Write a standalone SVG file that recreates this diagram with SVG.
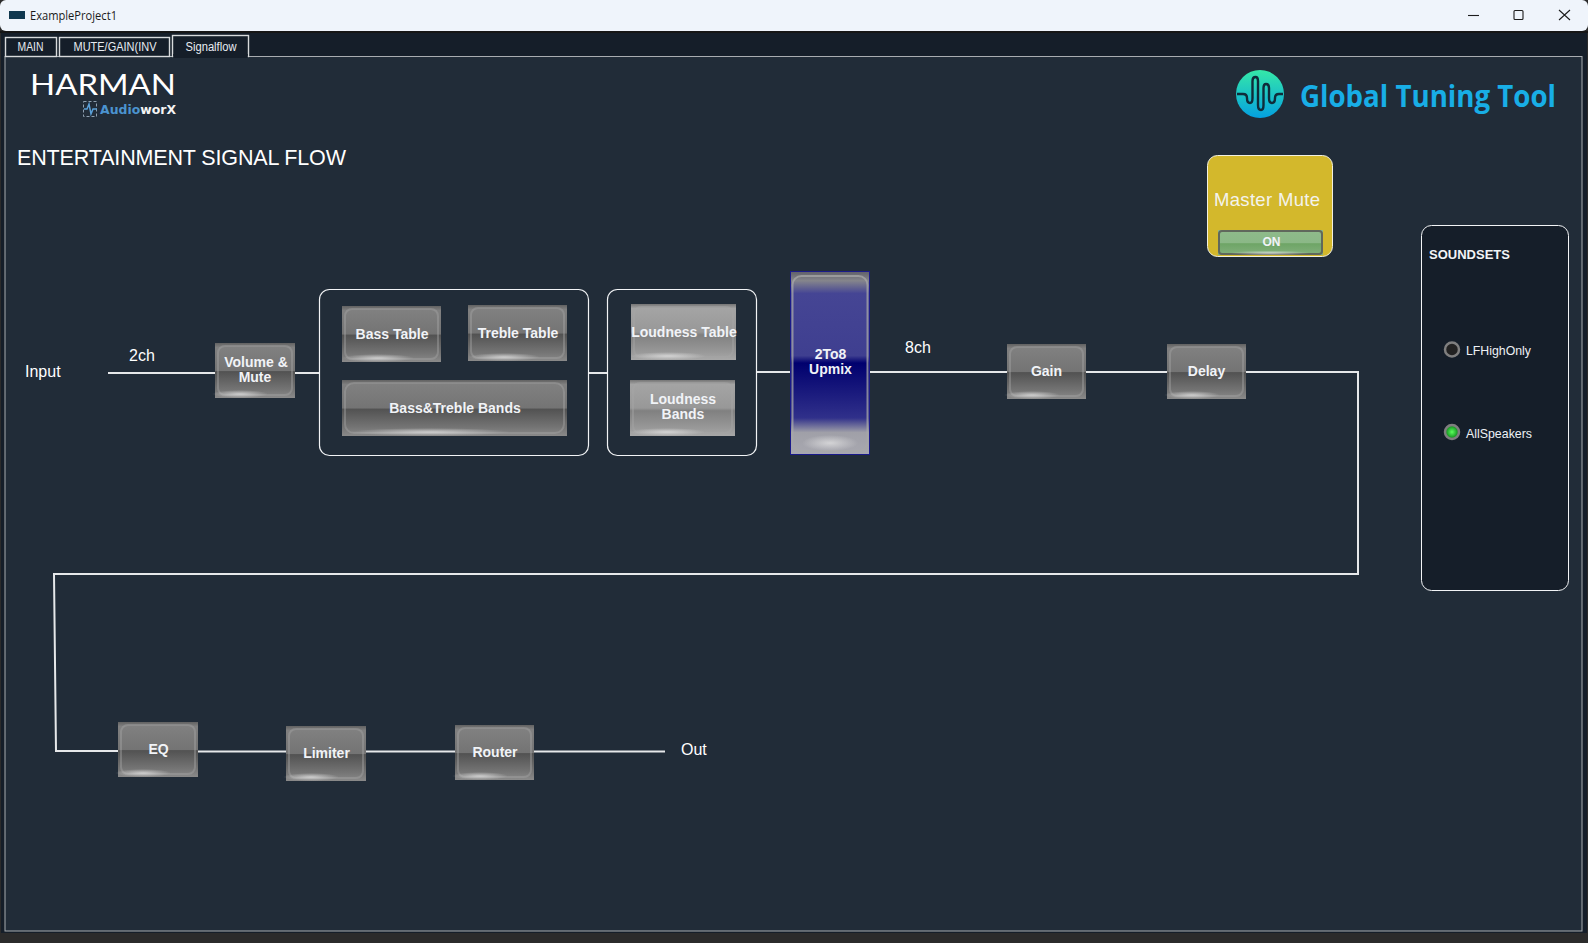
<svg xmlns="http://www.w3.org/2000/svg" width="1588" height="943" viewBox="0 0 1588 943">
<style>
.t{font-family:"Liberation Sans",Arial,sans-serif;fill:#fff}
.btn{font-family:"Liberation Sans",Arial,sans-serif;font-weight:700;font-size:14px;fill:#f1f3f7;text-anchor:middle}
.lbl{font-family:"Liberation Sans",Arial,sans-serif;font-size:16px;fill:#fff}
.tab{font-family:"Liberation Sans",Arial,sans-serif;font-size:12px;fill:#e8ecf2;text-anchor:middle}
.cn{fill:none;stroke:#e6e8ea;stroke-width:2}
.box{fill:none;stroke:#f2f4f6;stroke-width:1.2}
.edge{fill:none;stroke:#a8a8a8;stroke-width:2;opacity:.42}
.shade{fill:none;stroke:#4c4c4c;stroke-width:1;opacity:.7}
.hl{fill:url(#glow)}
.win{fill:none;stroke:#1c1c1c;stroke-width:1.1}
</style>
<defs>
<linearGradient id="gray" x1="0" y1="0" x2="0" y2="1">
<stop offset="0" stop-color="#626262"/><stop offset=".08" stop-color="#808080"/><stop offset=".5" stop-color="#747474"/><stop offset=".52" stop-color="#525252"/><stop offset=".85" stop-color="#757575"/><stop offset="1" stop-color="#8a8a8a"/>
</linearGradient>
<linearGradient id="light" x1="0" y1="0" x2="0" y2="1">
<stop offset="0" stop-color="#757575"/><stop offset=".08" stop-color="#a4a4a4"/><stop offset=".5" stop-color="#989898"/><stop offset=".55" stop-color="#808080"/><stop offset=".85" stop-color="#989898"/><stop offset="1" stop-color="#a8a8a8"/>
</linearGradient>
<linearGradient id="blue" x1="0" y1="0" x2="0" y2="1">
<stop offset="0" stop-color="#5f5f68"/><stop offset=".05" stop-color="#85858c"/><stop offset=".12" stop-color="#454594"/><stop offset=".46" stop-color="#3f3f90"/><stop offset=".5" stop-color="#00006e"/><stop offset=".8" stop-color="#30308a"/><stop offset=".88" stop-color="#a0a0a8"/><stop offset="1" stop-color="#a8a8b0"/>
</linearGradient>
<linearGradient id="green" x1="0" y1="0" x2="0" y2="1">
<stop offset="0" stop-color="#8fbb8b"/><stop offset=".5" stop-color="#8bb887"/><stop offset=".55" stop-color="#6ea566"/><stop offset="1" stop-color="#83b07d"/>
</linearGradient>
<linearGradient id="logo" x1="0" y1="0" x2="0" y2="1">
<stop offset="0" stop-color="#35e8a8"/><stop offset="1" stop-color="#04a0e0"/>
</linearGradient>
<radialGradient id="glow"><stop offset="0" stop-color="#e4e4e4" stop-opacity=".75"/><stop offset="1" stop-color="#e4e4e4" stop-opacity="0"/></radialGradient>
<radialGradient id="led"><stop offset="0" stop-color="#5cff5c"/><stop offset=".7" stop-color="#1fa52a"/><stop offset="1" stop-color="#356b3a"/></radialGradient>
</defs>

<rect width="1588" height="943" fill="#2b2b2b"/>
<rect x="0" y="0" width="1588" height="31" rx="6" fill="#eff4fb"/>
<rect x="0" y="31" width="1588" height="2" fill="#161616"/>
<rect x="1" y="33" width="1586" height="900" fill="#151e29"/>
<rect x="5" y="56.500" width="1577" height="874.500" fill="#212c38" stroke="#a8acb0" stroke-width="1"/>

<g id="titlebar">
<rect x="9" y="11" width="16" height="8" fill="#10384f"/>
<text x="30" y="20" font-family="'Open Sans',sans-serif" font-size="12" fill="#1a1a1a" textLength="87" lengthAdjust="spacingAndGlyphs">ExampleProject1</text>
<path class="win" d="M1468 15.500H1479"/>
<rect class="win" x="1514" y="10.500" width="9" height="9" rx="1"/>
<path class="win" d="M1559 10L1570 20M1570 10L1559 20"/>
</g>

<g id="tabs">
<rect x="5.500" y="37.500" width="51" height="19" fill="#151e29" stroke="#d8dadc" stroke-width="1.400"/>
<text class="tab" x="30.500" y="51" textLength="26" lengthAdjust="spacingAndGlyphs">MAIN</text>
<rect x="59.500" y="37.500" width="110" height="19" fill="#151e29" stroke="#d8dadc" stroke-width="1.400"/>
<text class="tab" x="115" y="51" textLength="83" lengthAdjust="spacingAndGlyphs">MUTE/GAIN(INV</text>
<rect x="172.500" y="35.500" width="76" height="21" fill="#151e29" stroke="#d8dadc" stroke-width="1.400"/>
<rect x="173.200" y="54" width="74.600" height="4" fill="#151e29"/>
<text class="tab" x="211" y="51" textLength="51" lengthAdjust="spacingAndGlyphs">Signalflow</text>
</g>

<g id="harman-logo">
<text x="30" y="94.500" font-family="Lato,sans-serif" font-size="28" fill="#fff" textLength="146" lengthAdjust="spacingAndGlyphs">HARMAN</text>
<rect x="83.500" y="101.500" width="13" height="15" fill="none" stroke="#8fa0b0" stroke-dasharray="3 2"/>
<path d="M84 109H87L89 104L91 114L93 109H97" fill="none" stroke="#5aa0d8" stroke-width="1.500"/>
<text x="100" y="114" font-family="'DejaVu Sans',sans-serif" font-weight="700" font-size="12.500" textLength="76" lengthAdjust="spacingAndGlyphs"><tspan fill="#4b93cf">Audio</tspan><tspan fill="#f4f4f4">worX</tspan></text>
</g>

<text class="t" x="17" y="165" font-size="21.500" textLength="329">ENTERTAINMENT SIGNAL FLOW</text>

<g id="gtt-logo">
<circle cx="1260" cy="94" r="24" fill="url(#logo)"/>
<path d="M1237 94H1243Q1247 94 1247 98Q1247 103 1250 103Q1252.500 103 1252.500 98V81Q1252.500 77 1255.500 77Q1258 77 1258 81V105Q1258 110 1261 110Q1263.500 110 1263.500 105V88Q1263.500 84 1266 84Q1269 84 1269 88V98Q1269 103 1272 103Q1275 103 1275 98Q1275 94 1279 94H1283" fill="none" stroke="#0f2c3a" stroke-width="2.400"/>
<text x="1300" y="106.500" font-family="'Open Sans',sans-serif" font-weight="700" font-size="31" fill="#18aee6" textLength="256" lengthAdjust="spacingAndGlyphs">Global Tuning Tool</text>
</g>

<g id="connectors">
<path class="cn" d="M108 373H215"/>
<path class="cn" d="M295 373H319"/>
<path class="cn" d="M588 373H607"/>
<path class="cn" d="M756 372H790"/>
<path class="cn" d="M870 372H1007"/>
<path class="cn" d="M1086 372H1167"/>
<path class="cn" d="M1246 372H1358V574H54L56 751H118"/>
<path class="cn" d="M198 751.500H286"/>
<path class="cn" d="M366 751.500H455"/>
<path class="cn" d="M534 751.500H665"/>
</g>

<text class="lbl" x="25" y="377">Input</text>
<text class="lbl" x="129" y="361">2ch</text>
<text class="lbl" x="905" y="353">8ch</text>
<text class="lbl" x="681" y="755">Out</text>

<rect class="box" x="319.500" y="289.500" width="269" height="166" rx="10"/>
<rect class="box" x="607.500" y="289.500" width="149" height="166" rx="10"/>

<g id="volume"><rect x="215" y="343" width="80" height="55" fill="url(#gray)"/><rect class="edge" x="218" y="346" width="74" height="49" rx="7"/><ellipse class="hl" cx="240" cy="394" rx="28" ry="4"/><text class="btn" x="256" y="367">Volume &amp;</text><text class="btn" x="255" y="382">Mute</text></g>
<g id="bass-table"><rect x="342" y="306" width="99" height="56" fill="url(#gray)"/><rect class="edge" x="345" y="309" width="93" height="50" rx="7"/><ellipse class="hl" cx="378" cy="358" rx="36" ry="4"/><text class="btn" x="392" y="339">Bass Table</text></g>
<g id="treble-table"><rect x="468" y="305" width="99" height="56" fill="url(#gray)"/><rect class="edge" x="471" y="308" width="93" height="50" rx="7"/><ellipse class="hl" cx="504" cy="357" rx="36" ry="4"/><text class="btn" x="518" y="338">Treble Table</text></g>
<g id="bass-treble-bands"><rect x="342" y="380" width="225" height="56" fill="url(#gray)"/><rect class="edge" x="345" y="383" width="219" height="50" rx="9"/><ellipse class="hl" cx="430" cy="432" rx="80" ry="4"/><text class="btn" x="455" y="413">Bass&amp;Treble Bands</text></g>
<g id="loudness-table"><rect x="631" y="304" width="105" height="56" fill="url(#light)"/><rect class="edge" x="634" y="307" width="99" height="50" rx="7"/><ellipse class="hl" cx="668" cy="356" rx="38" ry="4"/><text class="btn" x="684" y="337">Loudness Table</text></g>
<g id="loudness-bands"><rect x="630" y="380" width="105" height="56" fill="url(#light)"/><rect class="edge" x="633" y="383" width="99" height="50" rx="7"/><ellipse class="hl" cx="667" cy="432" rx="38" ry="4"/><text class="btn" x="683" y="404">Loudness</text><text class="btn" x="683" y="419">Bands</text></g>
<g id="upmix"><rect x="790.500" y="271.500" width="79" height="183" fill="url(#blue)" stroke="#1a1a8a"/><rect class="edge" x="792.500" y="276" width="75" height="175" rx="9" style="opacity:.75"/><ellipse class="hl" cx="830" cy="443" rx="28" ry="8"/><text class="btn" x="830.500" y="359">2To8</text><text class="btn" x="830.500" y="374">Upmix</text></g>
<g id="gain"><rect x="1007" y="344" width="79" height="55" fill="url(#gray)"/><rect class="edge" x="1010" y="347" width="73" height="49" rx="7"/><ellipse class="hl" cx="1032" cy="395" rx="28" ry="4"/><text class="btn" x="1046.500" y="376">Gain</text></g>
<g id="delay"><rect x="1167" y="344" width="79" height="55" fill="url(#gray)"/><rect class="edge" x="1170" y="347" width="73" height="49" rx="7"/><ellipse class="hl" cx="1192" cy="395" rx="28" ry="4"/><text class="btn" x="1206.500" y="376">Delay</text></g>
<g id="eq"><rect x="118" y="722" width="80" height="55" fill="url(#gray)"/><rect class="edge" x="121" y="725" width="74" height="49" rx="7"/><ellipse class="hl" cx="143" cy="773" rx="28" ry="4"/><text class="btn" x="158.500" y="754">EQ</text></g>
<g id="limiter"><rect x="286" y="726" width="80" height="55" fill="url(#gray)"/><rect class="edge" x="289" y="729" width="74" height="49" rx="7"/><ellipse class="hl" cx="311" cy="777" rx="28" ry="4"/><text class="btn" x="326.500" y="758">Limiter</text></g>
<g id="router"><rect x="455" y="725" width="79" height="55" fill="url(#gray)"/><rect class="edge" x="458" y="728" width="73" height="49" rx="7"/><ellipse class="hl" cx="480" cy="776" rx="28" ry="4"/><text class="btn" x="495" y="757">Router</text></g>

<g id="master-mute">
<rect x="1207.500" y="155.500" width="125" height="101" rx="10" fill="#d3b82c" stroke="#f2f0e0"/>
<text x="1267" y="206" font-family="'Liberation Sans',sans-serif" font-size="18.500" fill="#f3f3ee" text-anchor="middle" textLength="106">Master Mute</text>
<rect x="1218" y="230" width="105" height="25" fill="url(#green)"/>
<rect x="1219" y="231" width="103" height="23" rx="3" fill="none" stroke="#60685c" stroke-width="2"/>
<ellipse class="hl" cx="1270" cy="253" rx="40" ry="2.500"/>
<text class="btn" x="1271.500" y="246" style="font-size:12px">ON</text>
</g>

<g id="soundsets">
<rect x="1421.500" y="225.500" width="147" height="365" rx="10" fill="#151e29" stroke="#f2f4f6"/>
<text x="1429" y="259" font-family="'Liberation Sans',sans-serif" font-weight="700" font-size="13" fill="#f2f4f6" textLength="81">SOUNDSETS</text>
<circle cx="1452" cy="349.500" r="7" fill="#222" stroke="#7f7f7f" stroke-width="2.500"/>
<text x="1466" y="355" font-family="'Liberation Sans',sans-serif" font-size="13" fill="#eef1f5" textLength="65" lengthAdjust="spacingAndGlyphs">LFHighOnly</text>
<circle cx="1452" cy="432" r="7" fill="url(#led)" stroke="#7f7f7f" stroke-width="2.500"/>
<text x="1466" y="438" font-family="'Liberation Sans',sans-serif" font-size="13" fill="#eef1f5" textLength="66" lengthAdjust="spacingAndGlyphs">AllSpeakers</text>
</g>
</svg>
